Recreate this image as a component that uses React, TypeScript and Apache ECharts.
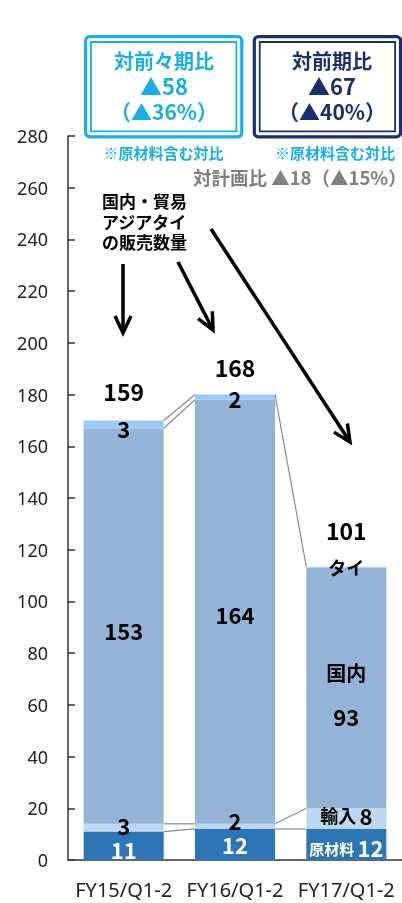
import React, { useEffect, useRef } from 'react';
import * as echarts from 'echarts';

const categories = ['FY15/Q1-2', 'FY16/Q1-2', 'FY17/Q1-2'];
const rawMaterial = [11, 12, 12]; // 原材料
const imports = [3, 2, 8]; // 輸入
const domestic = [153, 164, 93]; // 国内
const thai = [3, 2, 0.4]; // タイ
const totalLabels = [159, 168, 101];
const yMin = 0;
const yMax = 280;
const yInterval = 20;
// connectors: [from category index, number of stacked layers]
const connectorPairs = [[0, 1], [0, 2], [0, 3], [0, 4], [1, 1], [1, 2], [1, 4]];

const box1Lines = ['対前々期比', '▲58', '（▲36%）'];
const box2Lines = ['対前期比', '▲67', '（▲40%）'];
const noteText = '※原材料含む対比';
const planText = '対計画比 ▲18（▲15%）';
const arrowCaption = ['国内・貿易', 'アジアタイ', 'の販売数量'];

const JP = '"Noto Sans CJK JP", "Noto Sans", sans-serif';
const CYAN = '#19AEE6';
const NAVY = '#1B2F6E';
const BAR_W = 80;

const stacks = [rawMaterial, imports, domestic, thai];
const cum = (i: number, lvl: number) => {
  let s = 0;
  for (let k = 0; k < lvl; k++) s += stacks[k][i];
  return s;
};

function arrow(x1: number, y1: number, x2: number, y2: number) {
  const dx = x2 - x1;
  const dy = y2 - y1;
  const len = Math.sqrt(dx * dx + dy * dy);
  const ux = dx / len;
  const uy = dy / len;
  const hl = 17;
  const hw = 8;
  const bx = x2 - ux * hl;
  const by = y2 - uy * hl;
  const px = -uy;
  const py = ux;
  return [
    {
      type: 'line',
      shape: { x1, y1, x2: x2 - ux * 1.5, y2: y2 - uy * 1.5 },
      style: { stroke: '#000', lineWidth: 3.5 },
    },
    {
      type: 'polyline',
      shape: {
        points: [
          [bx + px * hw, by + py * hw],
          [x2, y2],
          [bx - px * hw, by - py * hw],
        ],
      },
      style: { stroke: '#000', lineWidth: 3.5, fill: null, lineJoin: 'miter' },
    },
  ];
}

function box(x: number, y: number, w: number, h: number, color: string) {
  return [
    {
      type: 'rect',
      shape: { x, y, width: w, height: h, r: 4 },
      style: { stroke: color, lineWidth: 3.2, fill: '#fff' },
    },
    {
      type: 'rect',
      shape: { x: x + 5.4, y: y + 5.4, width: w - 10.8, height: h - 10.8 },
      style: { stroke: color, lineWidth: 1.8, fill: null },
    },
  ];
}

function txt(text: string, x: number, y: number, font: string, fill: string, align = 'center', lineHeight?: number) {
  const style: any = {
    text,
    font,
    fill,
    textAlign: align,
    align,
    textVerticalAlign: 'middle',
    verticalAlign: 'middle',
  };
  if (lineHeight) style.lineHeight = lineHeight;
  return { type: 'text', x, y, style };
}

export default function App() {
  const ref = useRef<HTMLDivElement>(null);

  useEffect(() => {
    if (!ref.current) return;
    const chart = echarts.init(ref.current, undefined, { renderer: 'svg' });

    const numRich = {
      v: { fontSize: 22, fontWeight: 'bold', fontFamily: JP, color: '#000', lineHeight: 20 },
    };

    const rawOffsets = [[0, 3], [0, 0], [0, 3]];
    const impOffsets = [[0, -3], [0, -6], [0, -4]];
    const domOffsets = [[0, 4], [0, 2], [0, 6]];
    const thaiOffsets = [[0, 4], [0, 1], [0, 0]];
    const totalOffsets = [-29, -28, -37];

    const baseLabel = {
      show: true,
      position: 'inside',
      textBorderWidth: 0,
    };

    const option: any = {
      animation: false,
      grid: { left: 68, top: 136, width: 337, bottom: 43 },
      xAxis: {
        type: 'category',
        data: categories,
        axisLine: { lineStyle: { color: '#333', width: 1.5 } },
        axisTick: { inside: true, length: 8, lineStyle: { color: '#333', width: 1.5 } },
        axisLabel: { fontSize: 20, color: '#222', fontFamily: '"Noto Sans", sans-serif', margin: 19, interval: 0 },
      },
      yAxis: {
        type: 'value',
        min: yMin,
        max: yMax,
        interval: yInterval,
        splitLine: { show: false },
        axisLine: { show: true, lineStyle: { color: '#333', width: 1.5 } },
        axisTick: { show: true, inside: true, length: 7, lineStyle: { color: '#333', width: 1.5 } },
        axisLabel: { fontSize: 18, color: '#222', fontFamily: '"Noto Sans", sans-serif', margin: 20 },
      },
      series: [
        {
          type: 'bar',
          name: '原材料',
          stack: 'a',
          barWidth: BAR_W,
          itemStyle: { color: '#2E75B6' },
          data: rawMaterial.map((v, i) => ({
            value: v,
            label: {
              ...baseLabel,
              offset: rawOffsets[i],
              formatter: i === 2 ? `{n|原材料} {v|${v}}` : `{v|${v}}`,
              rich: {
                v: { fontSize: 22, fontWeight: 'bold', fontFamily: JP, color: '#fff', lineHeight: 20 },
                n: { fontSize: 15, fontWeight: 'bold', fontFamily: JP, color: '#fff', padding: [3, 0, 0, 0], lineHeight: 18 },
              },
            },
          })),
        },
        {
          type: 'bar',
          name: '輸入',
          stack: 'a',
          barWidth: BAR_W,
          itemStyle: { color: '#BDD7EE' },
          data: imports.map((v, i) => ({
            value: v,
            label: {
              ...baseLabel,
              offset: impOffsets[i],
              formatter: i === 2 ? `{n|輸入} {v|${v}}` : `{v|${v}}`,
              rich: {
                ...numRich,
                n: { fontSize: 18, fontWeight: 'bold', fontFamily: JP, color: '#000', lineHeight: 20 },
              },
            },
          })),
        },
        {
          type: 'bar',
          name: '国内',
          stack: 'a',
          barWidth: BAR_W,
          itemStyle: { color: '#95B3D7' },
          data: domestic.map((v, i) => ({
            value: v,
            label: {
              ...baseLabel,
              offset: domOffsets[i],
              formatter: i === 2 ? `{n|国内}\n{w|${v}}` : `{v|${v}}`,
              rich: {
                ...numRich,
                n: { fontSize: 20, fontWeight: 'bold', fontFamily: JP, color: '#000', lineHeight: 44 },
                w: { fontSize: 22, fontWeight: 'bold', fontFamily: JP, color: '#000', lineHeight: 44 },
              },
            },
          })),
        },
        {
          type: 'bar',
          name: 'タイ',
          stack: 'a',
          barWidth: BAR_W,
          itemStyle: { color: '#9DCAF5' },
          data: thai.map((v, i) => ({
            value: v,
            label: {
              ...baseLabel,
              offset: thaiOffsets[i],
              formatter: i === 2 ? `{n|タイ}` : `{v|${v}}`,
              rich: {
                ...numRich,
                n: { fontSize: 18, fontWeight: 'bold', fontFamily: JP, color: '#000', lineHeight: 20 },
              },
            },
          })),
        },
        {
          type: 'custom',
          name: 'connectors',
          z: 1,
          encode: { x: 0, y: [1, 2] },
          data: connectorPairs.map(([i, l]) => [i, cum(i, l), cum(i + 1, l)]),
          renderItem: (params: any, api: any) => {
            const i = api.value(0);
            const p1 = api.coord([i, api.value(1)]);
            const p2 = api.coord([i + 1, api.value(2)]);
            return {
              type: 'line',
              shape: { x1: p1[0] + BAR_W / 2, y1: p1[1], x2: p2[0] - BAR_W / 2, y2: p2[1] },
              style: { stroke: '#8a8a8a', lineWidth: 1.2 },
            };
          },
        },
        {
          type: 'custom',
          name: 'totals',
          z: 5,
          encode: { x: 0, y: 1 },
          data: categories.map((_, i) => [i, cum(i, 4)]),
          renderItem: (params: any, api: any) => {
            const i = api.value(0);
            const p = api.coord([i, api.value(1)]);
            return {
              type: 'text',
              x: p[0],
              y: p[1] + totalOffsets[i],
              style: {
                text: String(totalLabels[i]),
                font: `bold 23px ${JP}`,
                fill: '#000',
                textAlign: 'center',
                align: 'center',
                textVerticalAlign: 'middle',
                verticalAlign: 'middle',
              },
            };
          },
        },
      ],
      graphic: [
        ...box(85.6, 36.6, 156.2, 100.2, CYAN),
        ...box(254.3, 36.6, 146.2, 100.2, NAVY),
        txt(box1Lines[0], 164, 60, `bold 20px ${JP}`, CYAN),
        txt(box1Lines[1], 164, 85, `bold 22px ${JP}`, CYAN),
        txt(box1Lines[2], 164, 111, `bold 21px ${JP}`, CYAN),
        txt(box2Lines[0], 332, 60, `bold 20px ${JP}`, NAVY),
        txt(box2Lines[1], 332, 85, `bold 22px ${JP}`, NAVY),
        txt(box2Lines[2], 332, 111, `bold 21px ${JP}`, NAVY),
        txt(noteText, 163.5, 152.5, `bold 15px ${JP}`, CYAN),
        txt(noteText, 335, 152.5, `bold 15px ${JP}`, CYAN),
        txt(planText, 193, 176.5, `bold 18.5px ${JP}`, '#7F7F7F', 'left'),
        txt(arrowCaption.join('\n'), 102, 221, `bold 17px ${JP}`, '#000', 'left', 20.7),
        ...arrow(123, 264, 123, 333),
        ...arrow(178, 262, 213, 330),
        ...arrow(211, 229, 350, 442),
      ],
    };

    chart.setOption(option);
    return () => chart.dispose();
  }, []);

  return (
    <div
      ref={ref}
      style={{ position: 'fixed', left: 0, top: 0, width: 402, height: 903, overflow: 'hidden' }}
    />
  );
}
